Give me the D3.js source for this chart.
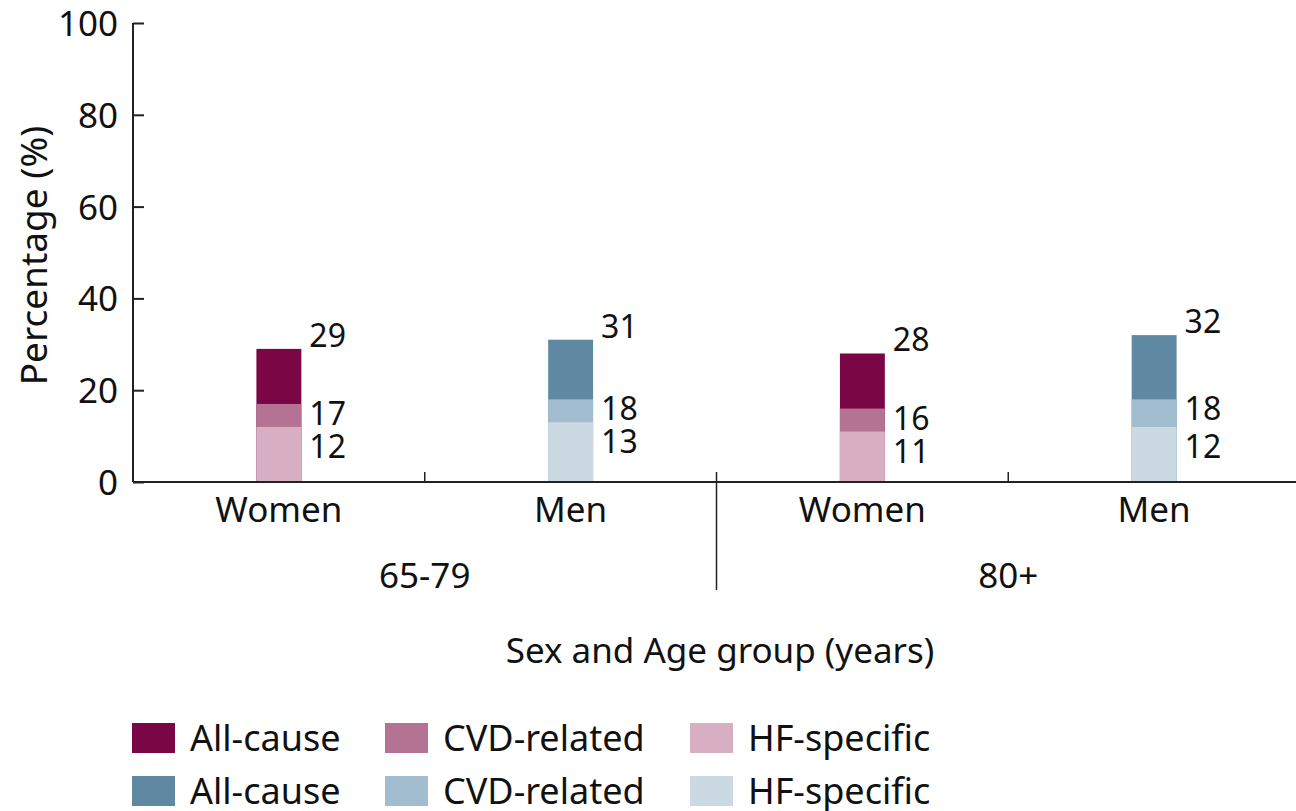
<!DOCTYPE html>
<html>
<head>
<meta charset="utf-8">
<script src="https://cdn.jsdelivr.net/npm/d3@7"></script>
<style>
  body { margin: 0; background: #fff; }
  svg { font-family: "Noto Sans", "Open Sans", sans-serif; }
</style>
</head>
<body>
<svg id="chart" width="1296" height="811"></svg>
<script>
    // data
    var categories = ["Women", "Men", "Women", "Men"];
    var ageGroups = ["65-79", "80+"];
    var seriesNames = ["All-cause", "CVD-related", "HF-specific"];
    var allCause = [29, 31, 28, 32];
    var cvdRelated = [17, 18, 16, 18];
    var hfSpecific = [12, 13, 11, 12];
    var yTicks = [0, 20, 40, 60, 80, 100];

    var womenColors = ["#7b0645", "#b57393", "#d8aec3"];
    var menColors = ["#5f88a2", "#a3bdd0", "#cbd9e3"];

    var svg = d3.select("#chart");
    var margin = {top: 23, left: 133, right: -4, bottom: 329};
    var width = 1296 - margin.left - margin.right;
    var height = 811 - margin.top - margin.bottom;

    var chart = svg.append("g")
        .attr("transform", "translate(" + margin.left + "," + margin.top + ")");

    var x = d3.scaleBand()
        .domain(d3.range(categories.length))
        .range([0, width])
        .paddingInner(0.846)
        .paddingOuter(0.423);

    var y = d3.scaleLinear()
        .domain([0, 100])
        .range([height, 0]);

    // y axis, ticks pointing inward
    var yAxis = d3.axisRight(y).tickValues(yTicks).tickSize(11).tickFormat("");
    var yg = chart.append("g").call(yAxis);
    yg.select(".domain").remove();
    yg.append("line").attr("x1", 0).attr("x2", 0).attr("y1", 0).attr("y2", height)
        .attr("stroke", "#222").attr("stroke-width", 2);
    yg.selectAll(".tick line").attr("stroke", "#222").attr("stroke-width", 2);

    chart.selectAll(".ylab")
        .data(yTicks)
        .enter().append("text")
        .attr("x", -15)
        .attr("y", function(d){ return y(d); })
        .attr("dy", "0.37em")
        .attr("text-anchor", "end")
        .style("font-size", "35px")
        .attr("fill", "#111")
        .text(function(d){ return d; });

    // y axis title
    svg.append("text")
        .attr("transform", "translate(47," + (margin.top + y(50) + 3) + ") rotate(-90)")
        .attr("text-anchor", "middle")
        .style("font-size", "37px")
        .attr("fill", "#111")
        .text("Percentage (%)");

    // bars: drawn overlapping, biggest first
    var layers = [allCause, cvdRelated, hfSpecific];
    layers.forEach(function(vals, s){
        chart.selectAll(".bar-" + s)
            .data(vals)
            .enter().append("rect")
            .attr("x", function(d, i){ return x(i); })
            .attr("y", function(d){ return y(d); })
            .attr("width", x.bandwidth())
            .attr("height", function(d){ return height - y(d); })
            .attr("fill", function(d, i){
                return (categories[i] === "Women" ? womenColors : menColors)[s];
            });
    });

    // value labels right of bars
    var labelY = [
        function(d, i){ return y(allCause[i]) - 2; },
        function(d, i){ return y(cvdRelated[i]) + 21; },
        function(d, i){ return y(hfSpecific[i]) + 31; }
    ];
    layers.forEach(function(vals, s){
        chart.selectAll(".val-" + s)
            .data(vals)
            .enter().append("text")
            .attr("x", function(d, i){ return x(i) + x.bandwidth() + 8; })
            .attr("y", labelY[s])
            .style("font-size", "32px")
            .attr("fill", "#111")
            .text(function(d){ return d; });
    });

    // x axis
    chart.append("line")
        .attr("x1", 0).attr("x2", width + 10)
        .attr("y1", height).attr("y2", height)
        .attr("stroke", "#222").attr("stroke-width", 2);

    var step = x.step();
    // small tick between sexes, long separator between age groups
    [1, 2, 3].forEach(function(k){
        chart.append("line")
            .attr("x1", k * step).attr("x2", k * step)
            .attr("y1", height - 10)
            .attr("y2", k === 2 ? height + 108 : height)
            .attr("stroke", "#222").attr("stroke-width", 1.5);
    });

    chart.selectAll(".xlab")
        .data(categories)
        .enter().append("text")
        .attr("x", function(d, i){ return x(i) + x.bandwidth() / 2; })
        .attr("y", height + 40)
        .attr("text-anchor", "middle")
        .style("font-size", "35px")
        .attr("fill", "#111")
        .text(function(d){ return d; });

    chart.selectAll(".glab")
        .data(ageGroups)
        .enter().append("text")
        .attr("x", function(d, i){ return (2 * i + 1) * step; })
        .attr("y", height + 106)
        .attr("text-anchor", "middle")
        .style("font-size", "35px")
        .attr("fill", "#111")
        .text(function(d){ return d; });

    svg.append("text")
        .attr("x", 720)
        .attr("y", 663)
        .attr("text-anchor", "middle")
        .style("font-size", "35px")
        .attr("fill", "#111")
        .text("Sex and Age group (years)");

    // legend, two rows (women / men)
    var legendCols = [132, 385, 690];
    [womenColors, menColors].forEach(function(cols, r){
        var row = svg.append("g").attr("transform", "translate(0," + (723 + r * 53) + ")");
        seriesNames.forEach(function(name, s){
            row.append("rect")
                .attr("x", legendCols[s]).attr("y", 0)
                .attr("width", 43).attr("height", 30)
                .attr("fill", cols[s]);
            row.append("text")
                .attr("x", legendCols[s] + 58)
                .attr("y", 28)
                .style("font-size", "36px")
                .attr("fill", "#111")
                .text(name);
        });
    });
</script>
</body>
</html>
